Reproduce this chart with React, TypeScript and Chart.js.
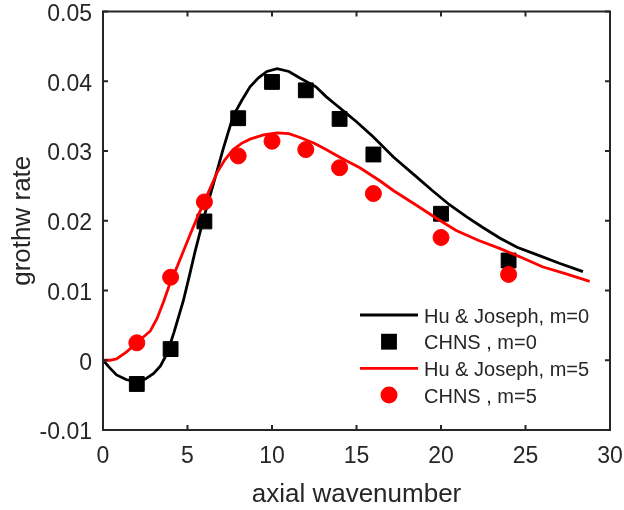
import React, { useEffect, useRef } from 'react';
import { Chart, registerables } from 'chart.js';

Chart.register(...registerables);

const FONT = "'Liberation Sans', Arial, Helvetica, sans-serif";
const AXIS_COLOR = '#262626';

const xTicks = [0, 5, 10, 15, 20, 25, 30];
const yTicks = [-0.01, 0, 0.01, 0.02, 0.03, 0.04, 0.05];
const yTickLabels = ['-0.01', '0', '0.01', '0.02', '0.03', '0.04', '0.05'];

const xTitle = 'axial wavenumber';
const yTitle = 'grothw rate';

const seriesLabels = ['Hu & Joseph, m=0', 'CHNS , m=0', 'Hu & Joseph, m=5', 'CHNS , m=5'];

// Hu & Joseph, m=0 (black curve)
const hjM0X = [0, 0.4, 0.8, 1.4, 2, 2.5, 3, 3.4, 3.8, 4.2, 4.75, 5.1, 5.45, 5.95, 6.5, 7.1, 7.7, 8.2, 8.7, 9.2, 9.7, 10.3, 11, 11.7, 12.6, 13.2, 13.8, 14.4, 15, 16, 17.2, 18.5, 19.5, 20.5, 21.5, 22.5, 23.5, 24.5, 25.7, 27, 28.4];
const hjM0Y = [0, -0.0011, -0.0021, -0.0028, -0.0031, -0.0027, -0.0019, -0.0008, 0.001, 0.004, 0.0085, 0.012, 0.0156, 0.0203, 0.025, 0.0302, 0.035, 0.0372, 0.0392, 0.0405, 0.0414, 0.0418, 0.0414, 0.0404, 0.0392, 0.0378, 0.0366, 0.0354, 0.0342, 0.032, 0.0291, 0.0264, 0.0243, 0.0223, 0.0206, 0.019, 0.0175, 0.0162, 0.0151, 0.0139, 0.0127];

// Hu & Joseph, m=5 (red curve)
const hjM5X = [0, 0.4, 0.8, 1.4, 2, 2.8, 3.2, 3.6, 4, 4.4, 4.75, 5.15, 5.55, 6.15, 6.75, 7.2, 7.7, 8.2, 8.7, 9.5, 10.3, 11, 11.7, 12.5, 13.2, 13.8, 14.4, 15.2, 16.4, 17.2, 18.5, 19.7, 20.9, 22.2, 23.5, 24.8, 26, 27.5, 28.8];
const hjM5Y = [0, 0.0, 0.0002, 0.0012, 0.0025, 0.0042, 0.006, 0.0085, 0.0113, 0.0135, 0.0156, 0.018, 0.0203, 0.0236, 0.0269, 0.0287, 0.0302, 0.0311, 0.0317, 0.0323, 0.0326, 0.0325, 0.0319, 0.0311, 0.0302, 0.0294, 0.0286, 0.0276, 0.0257, 0.0243, 0.0223, 0.0204, 0.0186, 0.0172, 0.016, 0.0147, 0.0134, 0.0123, 0.0113];

// CHNS simulation points
const chnsX = [2, 4, 6, 8, 10, 12, 14, 16, 20, 24];
const chnsM0Y = [-0.0034, 0.0016, 0.0199, 0.0347, 0.0399, 0.0387, 0.0346, 0.0295, 0.021, 0.0143];
const chnsM5Y = [0.0025, 0.0119, 0.0227, 0.0293, 0.0314, 0.0302, 0.0276, 0.0239, 0.0176, 0.0123];

const toPoints = (xs: number[], ys: number[]) => xs.map((x, i) => ({ x, y: ys[i] }));

const framePlugin = {
  id: 'frame',
  afterDatasetsDraw(chart: any) {
    const { ctx, chartArea: a, scales } = chart;
    const xs = scales.x;
    const ys = scales.y;
    ctx.save();
    ctx.strokeStyle = AXIS_COLOR;
    ctx.lineWidth = 2;
    ctx.lineCap = 'butt';
    ctx.beginPath();
    ctx.rect(a.left, a.top, a.right - a.left, a.bottom - a.top);
    ctx.stroke();
    const tl = 5;
    ctx.beginPath();
    xTicks.forEach((v) => {
      const px = xs.getPixelForValue(v);
      ctx.moveTo(px, a.bottom);
      ctx.lineTo(px, a.bottom - tl);
      ctx.moveTo(px, a.top);
      ctx.lineTo(px, a.top + tl);
    });
    yTicks.forEach((v) => {
      const py = ys.getPixelForValue(v);
      ctx.moveTo(a.left, py);
      ctx.lineTo(a.left + tl, py);
      ctx.moveTo(a.right, py);
      ctx.lineTo(a.right - tl, py);
    });
    ctx.stroke();
    ctx.restore();
  },
};

const legendPlugin = {
  id: 'insideLegend',
  afterDraw(chart: any) {
    const { ctx, chartArea: a } = chart;
    const lineStart = a.right - 250;
    const lineEnd = a.right - 192;
    const textX = a.right - 186;
    const rowTop = a.bottom - 115;
    const rowStep = 26.7;
    ctx.save();
    chart.data.datasets.forEach((ds: any, i: number) => {
      const y = rowTop + i * rowStep;
      if (ds.showLine) {
        ctx.strokeStyle = ds.borderColor;
        ctx.lineWidth = ds.borderWidth;
        ctx.beginPath();
        ctx.moveTo(lineStart, y);
        ctx.lineTo(lineEnd, y);
        ctx.stroke();
      } else {
        const cx = (lineStart + lineEnd) / 2;
        ctx.fillStyle = ds.pointBackgroundColor;
        ctx.beginPath();
        if (ds.pointStyle === 'rect') {
          const s = ds.pointRadius * Math.SQRT1_2 + 0.5;
          ctx.rect(cx - s, y - s, 2 * s, 2 * s);
        } else {
          ctx.arc(cx, y, ds.pointRadius + 0.5, 0, Math.PI * 2);
        }
        ctx.fill();
      }
      ctx.fillStyle = AXIS_COLOR;
      ctx.font = `20px ${FONT}`;
      ctx.textBaseline = 'middle';
      ctx.textAlign = 'left';
      ctx.fillText(ds.label, textX, y + 2);
    });
    ctx.restore();
  },
};

export default function App() {
  const canvasRef = useRef<HTMLCanvasElement | null>(null);

  useEffect(() => {
    const canvas = canvasRef.current;
    if (!canvas) return;
    const chart = new Chart(canvas, {
      type: 'scatter',
      data: {
        datasets: [
          {
            label: seriesLabels[0],
            data: toPoints(hjM0X, hjM0Y),
            showLine: true,
            borderColor: '#000000',
            backgroundColor: '#000000',
            borderWidth: 2.8,
            pointRadius: 0,
            order: 4,
          },
          {
            label: seriesLabels[1],
            data: toPoints(chnsX, chnsM0Y),
            showLine: false,
            pointStyle: 'rect',
            pointRadius: 10.5,
            pointBackgroundColor: '#000000',
            pointBorderColor: '#000000',
            pointBorderWidth: 1,
            order: 3,
          },
          {
            label: seriesLabels[2],
            data: toPoints(hjM5X, hjM5Y),
            showLine: true,
            borderColor: '#ff0000',
            backgroundColor: '#ff0000',
            borderWidth: 2.8,
            pointRadius: 0,
            order: 2,
          },
          {
            label: seriesLabels[3],
            data: toPoints(chnsX, chnsM5Y),
            showLine: false,
            pointStyle: 'circle',
            pointRadius: 8,
            pointBackgroundColor: '#ff0000',
            pointBorderColor: '#ff0000',
            pointBorderWidth: 1,
            order: 1,
          },
        ] as any,
      },
      options: {
        animation: false,
        responsive: false,
        devicePixelRatio: 1,
        layout: { padding: { left: 0, top: 7.5, right: 14, bottom: 0 } },
        plugins: {
          legend: { display: false },
          tooltip: { enabled: false },
        },
        scales: {
          x: {
            type: 'linear',
            min: 0,
            max: 30,
            afterBuildTicks: (scale: any) => {
              scale.ticks = xTicks.map((v) => ({ value: v }));
            },
            afterFit: (scale: any) => {
              scale.height = 80;
              scale.paddingLeft = 0;
              scale.paddingRight = 0;
            },
            grid: { display: false, drawTicks: false },
            border: { display: false },
            ticks: {
              padding: 13,
              color: AXIS_COLOR,
              font: { family: FONT, size: 23 },
              maxRotation: 0,
              callback: (v: any) => String(v),
            },
            title: {
              display: true,
              text: xTitle,
              color: AXIS_COLOR,
              font: { family: FONT, size: 26 },
              padding: { top: 3, bottom: 0 },
            },
          },
          y: {
            type: 'linear',
            min: -0.01,
            max: 0.05,
            afterBuildTicks: (scale: any) => {
              scale.ticks = yTicks.map((v) => ({ value: v }));
            },
            afterFit: (scale: any) => {
              scale.width = 103;
              scale.paddingTop = 0;
              scale.paddingBottom = 0;
            },
            grid: { display: false, drawTicks: false },
            border: { display: false },
            ticks: {
              padding: 11,
              labelOffset: 3,
              color: AXIS_COLOR,
              font: { family: FONT, size: 23 },
              callback: (v: any) => {
                const idx = yTicks.findIndex((t) => Math.abs(t - Number(v)) < 1e-9);
                return idx >= 0 ? yTickLabels[idx] : '';
              },
            },
            title: {
              display: true,
              text: yTitle,
              color: AXIS_COLOR,
              font: { family: FONT, size: 26 },
              padding: { top: 7, bottom: 0 },
            },
          },
        },
      } as any,
      plugins: [framePlugin, legendPlugin],
    });
    return () => chart.destroy();
  }, []);

  return (
    <div style={{ position: 'fixed', left: 0, top: 0, width: 624, height: 510, background: '#ffffff' }}>
      <canvas ref={canvasRef} width={624} height={510} style={{ display: 'block', width: 624, height: 510 }} />
    </div>
  );
}
